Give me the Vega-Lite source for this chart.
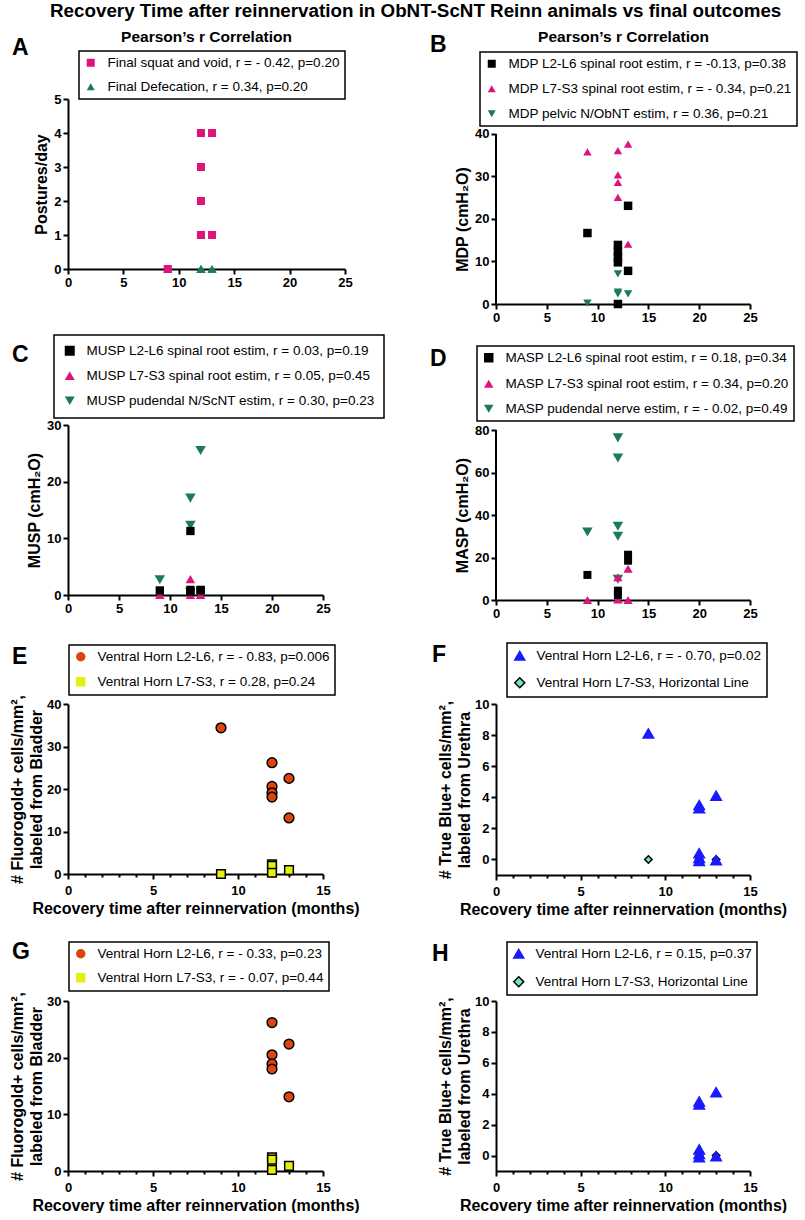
{
  "$schema": "https://vega.github.io/schema/vega-lite/v6.json",
  "padding": {"left": 9, "right": 0, "top": 2, "bottom": 0},
  "title": {"text": "Recovery Time after reinnervation in ObNT-ScNT Reinn animals vs final outcomes", "fontSize": 18.8, "anchor": "middle", "frame": "bounds", "offset": 8, "dx": 12},
  "config": {
    "font": "Liberation Sans",
    "view": {"stroke": null},
    "axis": {"domainColor": "black", "domainWidth": 2, "tickColor": "black", "tickWidth": 2, "tickSize": 5, "labelFontSize": 13, "labelFontWeight": "bold", "labelColor": "black", "labelPadding": 2, "labelFlush": false, "labelOverlap": false, "titleFontSize": 16, "titleFontWeight": "bold", "titleColor": "black", "titlePadding": 4, "titleLineHeight": 19, "grid": false},
    "legend": {"labelFontSize": 13.5, "labelColor": "black", "labelLimit": 600, "strokeColor": "black", "strokeWidth": 1.5, "fillColor": "white", "symbolOpacity": 1, "labelOffset": 10, "cornerRadius": 0},
    "title": {"color": "black", "fontWeight": "bold"}
  },
  "datasets": {
    "A": [
      {"s": "Final Defecation, r = 0.34, p=0.20", "x": 9, "y": 0},
      {"s": "Final Defecation, r = 0.34, p=0.20", "x": 12, "y": 1},
      {"s": "Final Defecation, r = 0.34, p=0.20", "x": 12, "y": 0},
      {"s": "Final Defecation, r = 0.34, p=0.20", "x": 12, "y": 0},
      {"s": "Final Defecation, r = 0.34, p=0.20", "x": 12, "y": 0},
      {"s": "Final Defecation, r = 0.34, p=0.20", "x": 12, "y": 0},
      {"s": "Final Defecation, r = 0.34, p=0.20", "x": 13, "y": 0},
      {"s": "Final Defecation, r = 0.34, p=0.20", "x": 13, "y": 0},
      {"s": "Final squat and void, r = - 0.42, p=0.20", "x": 9, "y": 0},
      {"s": "Final squat and void, r = - 0.42, p=0.20", "x": 12, "y": 4},
      {"s": "Final squat and void, r = - 0.42, p=0.20", "x": 12, "y": 3},
      {"s": "Final squat and void, r = - 0.42, p=0.20", "x": 12, "y": 2},
      {"s": "Final squat and void, r = - 0.42, p=0.20", "x": 12, "y": 1},
      {"s": "Final squat and void, r = - 0.42, p=0.20", "x": 12, "y": 1},
      {"s": "Final squat and void, r = - 0.42, p=0.20", "x": 13, "y": 4},
      {"s": "Final squat and void, r = - 0.42, p=0.20", "x": 13, "y": 1}
    ],
    "B": [
      {"s": "MDP pelvic N/ObNT estim, r = 0.36, p=0.21", "x": 9, "y": 0.2},
      {"s": "MDP pelvic N/ObNT estim, r = 0.36, p=0.21", "x": 12, "y": 7.1},
      {"s": "MDP pelvic N/ObNT estim, r = 0.36, p=0.21", "x": 12, "y": 2.8},
      {"s": "MDP pelvic N/ObNT estim, r = 0.36, p=0.21", "x": 12, "y": 2.4},
      {"s": "MDP pelvic N/ObNT estim, r = 0.36, p=0.21", "x": 13, "y": 2.4},
      {"s": "MDP L7-S3 spinal root estim, r = - 0.34, p=0.21", "x": 9, "y": 35.8},
      {"s": "MDP L7-S3 spinal root estim, r = - 0.34, p=0.21", "x": 12, "y": 36.1},
      {"s": "MDP L7-S3 spinal root estim, r = - 0.34, p=0.21", "x": 12, "y": 30.4},
      {"s": "MDP L7-S3 spinal root estim, r = - 0.34, p=0.21", "x": 12, "y": 28.6},
      {"s": "MDP L7-S3 spinal root estim, r = - 0.34, p=0.21", "x": 12, "y": 25.1},
      {"s": "MDP L7-S3 spinal root estim, r = - 0.34, p=0.21", "x": 13, "y": 37.6},
      {"s": "MDP L7-S3 spinal root estim, r = - 0.34, p=0.21", "x": 13, "y": 14.1},
      {"s": "MDP L2-L6 spinal root estim, r = -0.13, p=0.38", "x": 9, "y": 16.7},
      {"s": "MDP L2-L6 spinal root estim, r = -0.13, p=0.38", "x": 12, "y": 13.9},
      {"s": "MDP L2-L6 spinal root estim, r = -0.13, p=0.38", "x": 12, "y": 12.3},
      {"s": "MDP L2-L6 spinal root estim, r = -0.13, p=0.38", "x": 12, "y": 11.0},
      {"s": "MDP L2-L6 spinal root estim, r = -0.13, p=0.38", "x": 12, "y": 9.8},
      {"s": "MDP L2-L6 spinal root estim, r = -0.13, p=0.38", "x": 12, "y": 0},
      {"s": "MDP L2-L6 spinal root estim, r = -0.13, p=0.38", "x": 13, "y": 23.1},
      {"s": "MDP L2-L6 spinal root estim, r = -0.13, p=0.38", "x": 13, "y": 7.8}
    ],
    "C": [
      {"s": "MUSP pudendal N/ScNT estim, r = 0.30, p=0.23", "x": 9, "y": 2.7},
      {"s": "MUSP pudendal N/ScNT estim, r = 0.30, p=0.23", "x": 12, "y": 17.1},
      {"s": "MUSP pudendal N/ScNT estim, r = 0.30, p=0.23", "x": 12, "y": 12.3},
      {"s": "MUSP pudendal N/ScNT estim, r = 0.30, p=0.23", "x": 12, "y": 0.5},
      {"s": "MUSP pudendal N/ScNT estim, r = 0.30, p=0.23", "x": 13, "y": 25.5},
      {"s": "MUSP L7-S3 spinal root estim, r = 0.05, p=0.45", "x": 9, "y": 0},
      {"s": "MUSP L7-S3 spinal root estim, r = 0.05, p=0.45", "x": 12, "y": 2.8},
      {"s": "MUSP L7-S3 spinal root estim, r = 0.05, p=0.45", "x": 12, "y": 0},
      {"s": "MUSP L7-S3 spinal root estim, r = 0.05, p=0.45", "x": 13, "y": 0},
      {"s": "MUSP L2-L6 spinal root estim, r = 0.03, p=0.19", "x": 9, "y": 0.8},
      {"s": "MUSP L2-L6 spinal root estim, r = 0.03, p=0.19", "x": 12, "y": 11.3},
      {"s": "MUSP L2-L6 spinal root estim, r = 0.03, p=0.19", "x": 12, "y": 0.9},
      {"s": "MUSP L2-L6 spinal root estim, r = 0.03, p=0.19", "x": 12, "y": 0.6},
      {"s": "MUSP L2-L6 spinal root estim, r = 0.03, p=0.19", "x": 13, "y": 0.9},
      {"s": "MUSP L2-L6 spinal root estim, r = 0.03, p=0.19", "x": 13, "y": 0.8}
    ],
    "D": [
      {"s": "MASP pudendal nerve estim, r = - 0.02, p=0.49", "x": 9, "y": 32},
      {"s": "MASP pudendal nerve estim, r = - 0.02, p=0.49", "x": 12, "y": 76.3},
      {"s": "MASP pudendal nerve estim, r = - 0.02, p=0.49", "x": 12, "y": 66.8},
      {"s": "MASP pudendal nerve estim, r = - 0.02, p=0.49", "x": 12, "y": 34.7},
      {"s": "MASP pudendal nerve estim, r = - 0.02, p=0.49", "x": 12, "y": 30},
      {"s": "MASP pudendal nerve estim, r = - 0.02, p=0.49", "x": 12, "y": 9.8},
      {"s": "MASP L7-S3 spinal root estim, r = 0.34, p=0.20", "x": 9, "y": 0},
      {"s": "MASP L7-S3 spinal root estim, r = 0.34, p=0.20", "x": 12, "y": 10.7},
      {"s": "MASP L7-S3 spinal root estim, r = 0.34, p=0.20", "x": 12, "y": 0.3},
      {"s": "MASP L7-S3 spinal root estim, r = 0.34, p=0.20", "x": 13, "y": 14.7},
      {"s": "MASP L7-S3 spinal root estim, r = 0.34, p=0.20", "x": 13, "y": 0},
      {"s": "MASP L2-L6 spinal root estim, r = 0.18, p=0.34", "x": 9, "y": 11.8},
      {"s": "MASP L2-L6 spinal root estim, r = 0.18, p=0.34", "x": 12, "y": 4.4},
      {"s": "MASP L2-L6 spinal root estim, r = 0.18, p=0.34", "x": 12, "y": 2.3},
      {"s": "MASP L2-L6 spinal root estim, r = 0.18, p=0.34", "x": 13, "y": 21.3},
      {"s": "MASP L2-L6 spinal root estim, r = 0.18, p=0.34", "x": 13, "y": 18.5}
    ],
    "E": [
      {"s": "Ventral Horn L2-L6, r = - 0.83, p=0.006", "x": 9, "y": 34.4},
      {"s": "Ventral Horn L2-L6, r = - 0.83, p=0.006", "x": 12, "y": 26.2},
      {"s": "Ventral Horn L2-L6, r = - 0.83, p=0.006", "x": 12, "y": 20.6},
      {"s": "Ventral Horn L2-L6, r = - 0.83, p=0.006", "x": 12, "y": 19.1},
      {"s": "Ventral Horn L2-L6, r = - 0.83, p=0.006", "x": 12, "y": 18.1},
      {"s": "Ventral Horn L2-L6, r = - 0.83, p=0.006", "x": 13, "y": 22.5},
      {"s": "Ventral Horn L2-L6, r = - 0.83, p=0.006", "x": 13, "y": 13.2},
      {"s": "Ventral Horn L7-S3, r = 0.28, p=0.24", "x": 9, "y": 0},
      {"s": "Ventral Horn L7-S3, r = 0.28, p=0.24", "x": 12, "y": 2.3},
      {"s": "Ventral Horn L7-S3, r = 0.28, p=0.24", "x": 12, "y": 1.9},
      {"s": "Ventral Horn L7-S3, r = 0.28, p=0.24", "x": 12, "y": 0.3},
      {"s": "Ventral Horn L7-S3, r = 0.28, p=0.24", "x": 13, "y": 0.9}
    ],
    "F": [
      {"s": "Ventral Horn L7-S3, Horizontal Line", "x": 9, "y": 0},
      {"s": "Ventral Horn L7-S3, Horizontal Line", "x": 12, "y": 0},
      {"s": "Ventral Horn L7-S3, Horizontal Line", "x": 13, "y": 0},
      {"s": "Ventral Horn L2-L6, r = - 0.70, p=0.02", "x": 9, "y": 8.1},
      {"s": "Ventral Horn L2-L6, r = - 0.70, p=0.02", "x": 12, "y": 3.5},
      {"s": "Ventral Horn L2-L6, r = - 0.70, p=0.02", "x": 12, "y": 3.3},
      {"s": "Ventral Horn L2-L6, r = - 0.70, p=0.02", "x": 12, "y": 0.4},
      {"s": "Ventral Horn L2-L6, r = - 0.70, p=0.02", "x": 12, "y": 0.1},
      {"s": "Ventral Horn L2-L6, r = - 0.70, p=0.02", "x": 12, "y": -0.1},
      {"s": "Ventral Horn L2-L6, r = - 0.70, p=0.02", "x": 13, "y": 4.1},
      {"s": "Ventral Horn L2-L6, r = - 0.70, p=0.02", "x": 13, "y": -0.05}
    ],
    "G": [
      {"s": "Ventral Horn L2-L6, r = - 0.33, p=0.23", "x": 12, "y": 26.2},
      {"s": "Ventral Horn L2-L6, r = - 0.33, p=0.23", "x": 12, "y": 20.5},
      {"s": "Ventral Horn L2-L6, r = - 0.33, p=0.23", "x": 12, "y": 18.9},
      {"s": "Ventral Horn L2-L6, r = - 0.33, p=0.23", "x": 12, "y": 18.0},
      {"s": "Ventral Horn L2-L6, r = - 0.33, p=0.23", "x": 13, "y": 22.4},
      {"s": "Ventral Horn L2-L6, r = - 0.33, p=0.23", "x": 13, "y": 13.1},
      {"s": "Ventral Horn L7-S3, r = - 0.07, p=0.44", "x": 12, "y": 2.4},
      {"s": "Ventral Horn L7-S3, r = - 0.07, p=0.44", "x": 12, "y": 2.0},
      {"s": "Ventral Horn L7-S3, r = - 0.07, p=0.44", "x": 12, "y": 0.2},
      {"s": "Ventral Horn L7-S3, r = - 0.07, p=0.44", "x": 13, "y": 0.9}
    ],
    "H": [
      {"s": "Ventral Horn L7-S3, Horizontal Line", "x": 12, "y": 0},
      {"s": "Ventral Horn L7-S3, Horizontal Line", "x": 13, "y": 0},
      {"s": "Ventral Horn L2-L6, r = 0.15, p=0.37", "x": 12, "y": 3.5},
      {"s": "Ventral Horn L2-L6, r = 0.15, p=0.37", "x": 12, "y": 3.3},
      {"s": "Ventral Horn L2-L6, r = 0.15, p=0.37", "x": 12, "y": 0.4},
      {"s": "Ventral Horn L2-L6, r = 0.15, p=0.37", "x": 12, "y": 0.1},
      {"s": "Ventral Horn L2-L6, r = 0.15, p=0.37", "x": 12, "y": -0.1},
      {"s": "Ventral Horn L2-L6, r = 0.15, p=0.37", "x": 13, "y": 4.1},
      {"s": "Ventral Horn L2-L6, r = 0.15, p=0.37", "x": 13, "y": -0.05}
    ]
  },
  "spacing": 10,
  "resolve": {"scale": {"x": "independent", "y": "independent", "fill": "independent", "shape": "independent", "size": "independent", "stroke": "independent"}, "legend": {"fill": "independent", "shape": "independent", "stroke": "independent", "size": "independent"}},
  "vconcat": [
    {
      "hconcat": [
        {
          "data": {"name": "A"},
          "width": 277, "height": 170,
          "title": {"text": "A", "anchor": "start", "frame": "group", "dx": -56, "fontSize": 23, "offset": -31},
          "layer": [
            {
              "mark": {"type": "point", "filled": true, "opacity": 1},
              "encoding": {
                "x": {"field": "x", "type": "quantitative", "scale": {"domain": [0, 25], "nice": false, "zero": false}, "axis": {"values": [0, 5, 10, 15, 20, 25], "title": null}},
                "y": {"field": "y", "type": "quantitative", "scale": {"domain": [0, 5], "nice": false, "zero": false}, "axis": {"values": [0, 1, 2, 3, 4, 5], "title": "Postures/day"}},
                "fill": {"field": "s", "type": "nominal", "scale": {"domain": ["Final squat and void, r = - 0.42, p=0.20", "Final Defecation, r = 0.34, p=0.20"], "range": ["#e0127e", "#1b7a5a"]}, "legend": {"title": null, "orient": "none", "legendX": 11, "legendY": -48, "padding": 5, "rowPadding": 9, "symbolSize": 64}},
                "shape": {"field": "s", "type": "nominal", "scale": {"domain": ["Final squat and void, r = - 0.42, p=0.20", "Final Defecation, r = 0.34, p=0.20"], "range": ["square", "triangle-up"]}, "legend": {"title": null, "orient": "none", "legendX": 11, "legendY": -48, "padding": 5, "rowPadding": 9, "symbolSize": 64}},
                "size": {"field": "s", "type": "ordinal", "scale": {"domain": ["Final Defecation, r = 0.34, p=0.20", "Final squat and void, r = - 0.42, p=0.20"], "range": [80, 64]}, "legend": null}
              }
            },
            {
              "mark": {"type": "point", "opacity": 0},
              "encoding": {
                "x": {"field": "x", "type": "quantitative", "axis": {"orient": "top", "domain": false, "ticks": false, "labels": false, "title": "Pearson’s r Correlation", "titleX": 138, "titleY": -58, "titleFontSize": 15.5, "titleBaseline": "alphabetic", "titleAlign": "center", "titleAngle": 0}}
              }
            }
          ],
          "resolve": {"axis": {"x": "independent"}}
        },
        {
          "data": {"name": "B"},
          "width": 254, "height": 205,
          "title": {"text": "B", "anchor": "start", "frame": "group", "dx": -66, "fontSize": 23, "offset": -28},
          "layer": [
            {
              "mark": {"type": "point", "filled": true, "opacity": 1, "size": 72},
              "encoding": {
                "x": {"field": "x", "type": "quantitative", "scale": {"domain": [0, 25], "nice": false, "zero": false}, "axis": {"values": [0, 5, 10, 15, 20, 25], "title": null}},
                "y": {"field": "y", "type": "quantitative", "scale": {"domain": [0, 48.235], "nice": false, "zero": false}, "axis": {"values": [0, 10, 20, 30, 40], "domain": false, "title": "MDP (cmH₂O)", "titleY": 120}},
                "fill": {"field": "s", "type": "nominal", "scale": {"domain": ["MDP L2-L6 spinal root estim, r = -0.13, p=0.38", "MDP L7-S3 spinal root estim, r = - 0.34, p=0.21", "MDP pelvic N/ObNT estim, r = 0.36, p=0.21"], "range": ["#000000", "#e0127e", "#1b7a5a"]}, "legend": {"title": null, "orient": "none", "legendX": -16, "legendY": -47, "padding": 5, "rowPadding": 10, "symbolSize": 64}},
                "shape": {"field": "s", "type": "nominal", "scale": {"domain": ["MDP L2-L6 spinal root estim, r = -0.13, p=0.38", "MDP L7-S3 spinal root estim, r = - 0.34, p=0.21", "MDP pelvic N/ObNT estim, r = 0.36, p=0.21"], "range": ["square", "triangle-up", "triangle-down"]}, "legend": {"title": null, "orient": "none", "legendX": -16, "legendY": -47, "padding": 5, "rowPadding": 10, "symbolSize": 64}}
              }
            },
            {
              "data": {"values": [{}]},
              "mark": {"type": "rule", "color": "black", "strokeWidth": 2},
              "encoding": {
                "x": {"datum": 0, "type": "quantitative", "axis": {"orient": "top", "domain": false, "ticks": false, "labels": false, "title": "Pearson’s r Correlation", "titleX": 127, "titleY": -58, "titleFontSize": 15.5, "titleBaseline": "alphabetic", "titleAlign": "center", "titleAngle": 0}},
                "y": {"datum": 0, "type": "quantitative"},
                "y2": {"datum": 40}
              }
            }
          ],
          "resolve": {"axis": {"x": "independent"}}
        }
      ],
      "spacing": 151,
      "bounds": "flush",
      "resolve": {"scale": {"x": "independent", "y": "independent", "fill": "independent", "shape": "independent", "size": "independent", "stroke": "independent"}, "legend": {"fill": "independent", "shape": "independent", "stroke": "independent", "size": "independent"}}
    },
    {
      "vconcat": [
        {
          "hconcat": [
            {
              "data": {"name": "C"},
              "width": 255, "height": 170,
              "title": {"text": "C", "anchor": "start", "frame": "group", "dx": -56, "fontSize": 23, "offset": -33},
              "mark": {"type": "point", "filled": true, "opacity": 1},
              "encoding": {
                "x": {"field": "x", "type": "quantitative", "scale": {"domain": [0, 25], "nice": false, "zero": false}, "axis": {"values": [0, 5, 10, 15, 20, 25], "title": null}},
                "y": {"field": "y", "type": "quantitative", "scale": {"domain": [0, 30], "nice": false, "zero": false}, "axis": {"values": [0, 10, 20, 30], "title": "MUSP (cmH₂O)"}},
                "fill": {"field": "s", "type": "nominal", "scale": {"domain": ["MUSP L2-L6 spinal root estim, r = 0.03, p=0.19", "MUSP L7-S3 spinal root estim, r = 0.05, p=0.45", "MUSP pudendal N/ScNT estim, r = 0.30, p=0.23"], "range": ["#000000", "#e0127e", "#1b7a5a"]}, "legend": {"title": null, "orient": "none", "legendX": -14, "legendY": -90, "padding": 9, "rowPadding": 9, "symbolSize": 100}},
                "shape": {"field": "s", "type": "nominal", "scale": {"domain": ["MUSP L2-L6 spinal root estim, r = 0.03, p=0.19", "MUSP L7-S3 spinal root estim, r = 0.05, p=0.45", "MUSP pudendal N/ScNT estim, r = 0.30, p=0.23"], "range": ["square", "triangle-up", "triangle-down"]}, "legend": {"title": null, "orient": "none", "legendX": -14, "legendY": -90, "padding": 9, "rowPadding": 9, "symbolSize": 100}},
                "size": {"field": "s", "type": "ordinal", "scale": {"domain": ["MUSP pudendal N/ScNT estim, r = 0.30, p=0.23", "MUSP L7-S3 spinal root estim, r = 0.05, p=0.45", "MUSP L2-L6 spinal root estim, r = 0.03, p=0.19"], "range": [110, 70, 140]}, "legend": null}
              }
            },
            {
              "data": {"name": "D"},
              "width": 254, "height": 175,
              "title": {"text": "D", "anchor": "start", "frame": "group", "dx": -66, "fontSize": 23, "offset": -26},
              "layer": [
                {
                  "mark": {"type": "point", "filled": true, "opacity": 1},
                  "encoding": {
                    "x": {"field": "x", "type": "quantitative", "scale": {"domain": [0, 25], "nice": false, "zero": false}, "axis": {"values": [0, 5, 10, 15, 20, 25], "title": null}},
                    "y": {"field": "y", "type": "quantitative", "scale": {"domain": [0, 82.353], "nice": false, "zero": false}, "axis": {"values": [0, 20, 40, 60, 80], "domain": false, "title": "MASP (cmH₂O)", "titleY": 90}},
                    "fill": {"field": "s", "type": "nominal", "scale": {"domain": ["MASP L2-L6 spinal root estim, r = 0.18, p=0.34", "MASP L7-S3 spinal root estim, r = 0.34, p=0.20", "MASP pudendal nerve estim, r = - 0.02, p=0.49"], "range": ["#000000", "#e0127e", "#1b7a5a"]}, "legend": {"title": null, "orient": "none", "legendX": -19, "legendY": -79, "padding": 5, "rowPadding": 10, "symbolSize": 90}},
                    "shape": {"field": "s", "type": "nominal", "scale": {"domain": ["MASP L2-L6 spinal root estim, r = 0.18, p=0.34", "MASP L7-S3 spinal root estim, r = 0.34, p=0.20", "MASP pudendal nerve estim, r = - 0.02, p=0.49"], "range": ["square", "triangle-up", "triangle-down"]}, "legend": {"title": null, "orient": "none", "legendX": -19, "legendY": -79, "padding": 5, "rowPadding": 10, "symbolSize": 90}},
                    "size": {"field": "s", "type": "ordinal", "scale": {"domain": ["MASP pudendal nerve estim, r = - 0.02, p=0.49", "MASP L7-S3 spinal root estim, r = 0.34, p=0.20", "MASP L2-L6 spinal root estim, r = 0.18, p=0.34"], "range": [110, 64, 140]}, "legend": null}
                  }
                },
                {
                  "data": {"values": [{}]},
                  "mark": {"type": "rule", "color": "black", "strokeWidth": 2},
                  "encoding": {
                    "x": {"datum": 0, "type": "quantitative"},
                    "y": {"datum": 0, "type": "quantitative"},
                    "y2": {"datum": 80}
                  }
                }
              ]
            }
          ],
          "spacing": 173,
          "bounds": "flush",
          "resolve": {"scale": {"x": "independent", "y": "independent", "fill": "independent", "shape": "independent", "size": "independent", "stroke": "independent"}, "legend": {"fill": "independent", "shape": "independent", "stroke": "independent", "size": "independent"}}
        },
        {
          "vconcat": [
            {
              "hconcat": [
                {
                  "data": {"name": "E"},
                  "width": 255, "height": 170,
                  "title": {"text": "E", "anchor": "start", "frame": "group", "dx": -56, "fontSize": 23, "offset": -25},
                  "mark": {"type": "point", "filled": true, "opacity": 1, "stroke": "black", "strokeWidth": 1.5},
                  "encoding": {
                    "x": {"field": "x", "type": "quantitative", "scale": {"domain": [0, 15], "nice": false, "zero": false}, "axis": {"values": [0, 1, 2, 3, 4, 5, 6, 7, 8, 9, 10, 11, 12, 13, 14, 15], "labelExpr": "datum.value % 5 === 0 ? datum.label : ''", "tickSize": {"condition": {"test": "datum.value % 5 === 0", "value": 5}, "value": 3}, "labelPadding": 5, "title": "Recovery time after reinnervation (months)", "titlePadding": 3}},
                    "y": {"field": "y", "type": "quantitative", "scale": {"domain": [0, 40], "nice": false, "zero": false}, "axis": {"values": [0, 10, 20, 30, 40], "title": ["# Fluorogold+ cells/mm²,", "labeled from Bladder"], "titlePadding": 2}},
                    "fill": {"field": "s", "type": "nominal", "scale": {"domain": ["Ventral Horn L2-L6, r = - 0.83, p=0.006", "Ventral Horn L7-S3, r = 0.28, p=0.24"], "range": ["#dd4510", "#e6f010"]}, "legend": {"title": null, "orient": "none", "legendX": 1, "legendY": -59, "padding": 5, "rowPadding": 9, "symbolSize": 90, "symbolStrokeColor": "black", "symbolStrokeWidth": 1.5}},
                    "shape": {"field": "s", "type": "nominal", "scale": {"domain": ["Ventral Horn L2-L6, r = - 0.83, p=0.006", "Ventral Horn L7-S3, r = 0.28, p=0.24"], "range": ["circle", "square"]}, "legend": {"title": null, "orient": "none", "legendX": 1, "legendY": -59, "padding": 5, "rowPadding": 9, "symbolSize": 90, "symbolStrokeColor": "black", "symbolStrokeWidth": 1.5}},
                    "size": {"field": "s", "type": "ordinal", "scale": {"domain": ["Ventral Horn L7-S3, r = 0.28, p=0.24", "Ventral Horn L2-L6, r = - 0.83, p=0.006"], "range": [75, 95]}, "legend": null}
                  }
                },
                {
                  "data": {"name": "F"},
                  "width": 254, "height": 171,
                  "title": {"text": "F", "anchor": "start", "frame": "group", "dx": -64, "fontSize": 23, "offset": -25},
                  "mark": {"type": "point", "filled": true, "opacity": 1, "strokeWidth": 1.5},
                  "encoding": {
                    "x": {"field": "x", "type": "quantitative", "scale": {"domain": [0, 15], "nice": false, "zero": false}, "axis": {"values": [0, 1, 2, 3, 4, 5, 6, 7, 8, 9, 10, 11, 12, 13, 14, 15], "labelExpr": "datum.value % 5 === 0 ? datum.label : ''", "tickSize": {"condition": {"test": "datum.value % 5 === 0", "value": 5}, "value": 3}, "labelPadding": 5, "title": "Recovery time after reinnervation (months)", "titlePadding": 3}},
                    "y": {"field": "y", "type": "quantitative", "scale": {"domain": [-1, 10], "nice": false, "zero": false}, "axis": {"values": [0, 2, 4, 6, 8, 10], "title": ["# True Blue+ cells/mm²,", "labeled from Urethra"], "titlePadding": 2}},
                    "fill": {"field": "s", "type": "nominal", "scale": {"domain": ["Ventral Horn L2-L6, r = - 0.70, p=0.02", "Ventral Horn L7-S3, Horizontal Line"], "range": ["#1a1aff", "#6ee5c8"]}, "legend": {"title": null, "orient": "none", "legendX": 11, "legendY": -61, "padding": 6, "rowPadding": 10, "symbolSize": 100, "symbolStrokeWidth": 1.5}},
                    "shape": {"field": "s", "type": "nominal", "scale": {"domain": ["Ventral Horn L2-L6, r = - 0.70, p=0.02", "Ventral Horn L7-S3, Horizontal Line"], "range": ["triangle-up", "diamond"]}, "legend": {"title": null, "orient": "none", "legendX": 11, "legendY": -61, "padding": 6, "rowPadding": 10, "symbolSize": 100, "symbolStrokeWidth": 1.5}},
                    "stroke": {"field": "s", "type": "nominal", "scale": {"domain": ["Ventral Horn L2-L6, r = - 0.70, p=0.02", "Ventral Horn L7-S3, Horizontal Line"], "range": ["#1a1aff", "#000000"]}, "legend": {"title": null, "orient": "none", "legendX": 11, "legendY": -61, "padding": 6, "rowPadding": 10, "symbolSize": 100, "symbolStrokeWidth": 1.5}},
                    "size": {"field": "s", "type": "ordinal", "scale": {"domain": ["Ventral Horn L7-S3, Horizontal Line", "Ventral Horn L2-L6, r = - 0.70, p=0.02"], "range": [55, 110]}, "legend": null}
                  }
                }
              ],
              "spacing": 173,
              "bounds": "flush",
              "resolve": {"scale": {"x": "independent", "y": "independent", "fill": "independent", "shape": "independent", "size": "independent", "stroke": "independent"}, "legend": {"fill": "independent", "shape": "independent", "stroke": "independent", "size": "independent"}}
            },
            {
              "hconcat": [
                {
                  "data": {"name": "G"},
                  "width": 255, "height": 170,
                  "title": {"text": "G", "anchor": "start", "frame": "group", "dx": -56, "fontSize": 23, "offset": -23},
                  "mark": {"type": "point", "filled": true, "opacity": 1, "stroke": "black", "strokeWidth": 1.5},
                  "encoding": {
                    "x": {"field": "x", "type": "quantitative", "scale": {"domain": [0, 15], "nice": false, "zero": false}, "axis": {"values": [0, 1, 2, 3, 4, 5, 6, 7, 8, 9, 10, 11, 12, 13, 14, 15], "labelExpr": "datum.value % 5 === 0 ? datum.label : ''", "tickSize": {"condition": {"test": "datum.value % 5 === 0", "value": 5}, "value": 3}, "labelPadding": 5, "title": "Recovery time after reinnervation (months)", "titlePadding": 3}},
                    "y": {"field": "y", "type": "quantitative", "scale": {"domain": [0, 30], "nice": false, "zero": false}, "axis": {"values": [0, 10, 20, 30], "title": ["# Fluorogold+ cells/mm²,", "labeled from Bladder"], "titlePadding": 2}},
                    "fill": {"field": "s", "type": "nominal", "scale": {"domain": ["Ventral Horn L2-L6, r = - 0.33, p=0.23", "Ventral Horn L7-S3, r = - 0.07, p=0.44"], "range": ["#dd4510", "#e6f010"]}, "legend": {"title": null, "orient": "none", "legendX": 1, "legendY": -59, "padding": 5, "rowPadding": 8, "symbolSize": 90, "symbolStrokeColor": "black", "symbolStrokeWidth": 1.5}},
                    "shape": {"field": "s", "type": "nominal", "scale": {"domain": ["Ventral Horn L2-L6, r = - 0.33, p=0.23", "Ventral Horn L7-S3, r = - 0.07, p=0.44"], "range": ["circle", "square"]}, "legend": {"title": null, "orient": "none", "legendX": 1, "legendY": -59, "padding": 5, "rowPadding": 8, "symbolSize": 90, "symbolStrokeColor": "black", "symbolStrokeWidth": 1.5}},
                    "size": {"field": "s", "type": "ordinal", "scale": {"domain": ["Ventral Horn L7-S3, r = - 0.07, p=0.44", "Ventral Horn L2-L6, r = - 0.33, p=0.23"], "range": [75, 95]}, "legend": null}
                  }
                },
                {
                  "data": {"name": "H"},
                  "width": 254, "height": 170,
                  "title": {"text": "H", "anchor": "start", "frame": "group", "dx": -64, "fontSize": 23, "offset": -25},
                  "mark": {"type": "point", "filled": true, "opacity": 1, "strokeWidth": 1.5},
                  "encoding": {
                    "x": {"field": "x", "type": "quantitative", "scale": {"domain": [0, 15], "nice": false, "zero": false}, "axis": {"values": [0, 1, 2, 3, 4, 5, 6, 7, 8, 9, 10, 11, 12, 13, 14, 15], "labelExpr": "datum.value % 5 === 0 ? datum.label : ''", "tickSize": {"condition": {"test": "datum.value % 5 === 0", "value": 5}, "value": 3}, "labelPadding": 5, "title": "Recovery time after reinnervation (months)", "titlePadding": 3}},
                    "y": {"field": "y", "type": "quantitative", "scale": {"domain": [-1, 10], "nice": false, "zero": false}, "axis": {"values": [0, 2, 4, 6, 8, 10], "title": ["# True Blue+ cells/mm²,", "labeled from Urethra"], "titlePadding": 2}},
                    "fill": {"field": "s", "type": "nominal", "scale": {"domain": ["Ventral Horn L2-L6, r = 0.15, p=0.37", "Ventral Horn L7-S3, Horizontal Line"], "range": ["#1a1aff", "#6ee5c8"]}, "legend": {"title": null, "orient": "none", "legendX": 11, "legendY": -59, "padding": 5, "rowPadding": 11, "symbolSize": 100, "symbolStrokeWidth": 1.5}},
                    "shape": {"field": "s", "type": "nominal", "scale": {"domain": ["Ventral Horn L2-L6, r = 0.15, p=0.37", "Ventral Horn L7-S3, Horizontal Line"], "range": ["triangle-up", "diamond"]}, "legend": {"title": null, "orient": "none", "legendX": 11, "legendY": -59, "padding": 5, "rowPadding": 11, "symbolSize": 100, "symbolStrokeWidth": 1.5}},
                    "stroke": {"field": "s", "type": "nominal", "scale": {"domain": ["Ventral Horn L2-L6, r = 0.15, p=0.37", "Ventral Horn L7-S3, Horizontal Line"], "range": ["#1a1aff", "#000000"]}, "legend": {"title": null, "orient": "none", "legendX": 11, "legendY": -59, "padding": 5, "rowPadding": 11, "symbolSize": 100, "symbolStrokeWidth": 1.5}},
                    "size": {"field": "s", "type": "ordinal", "scale": {"domain": ["Ventral Horn L7-S3, Horizontal Line", "Ventral Horn L2-L6, r = 0.15, p=0.37"], "range": [55, 110]}, "legend": null}
                  }
                }
              ],
              "spacing": 173,
              "bounds": "flush",
              "resolve": {"scale": {"x": "independent", "y": "independent", "fill": "independent", "shape": "independent", "size": "independent", "stroke": "independent"}, "legend": {"fill": "independent", "shape": "independent", "stroke": "independent", "size": "independent"}}
            }
          ],
          "spacing": 24,
          "resolve": {"scale": {"x": "independent", "y": "independent", "fill": "independent", "shape": "independent", "size": "independent", "stroke": "independent"}, "legend": {"fill": "independent", "shape": "independent", "stroke": "independent", "size": "independent"}}
        }
      ],
      "spacing": 22,
      "resolve": {"scale": {"x": "independent", "y": "independent", "fill": "independent", "shape": "independent", "size": "independent", "stroke": "independent"}, "legend": {"fill": "independent", "shape": "independent", "stroke": "independent", "size": "independent"}}
    }
  ]
}
